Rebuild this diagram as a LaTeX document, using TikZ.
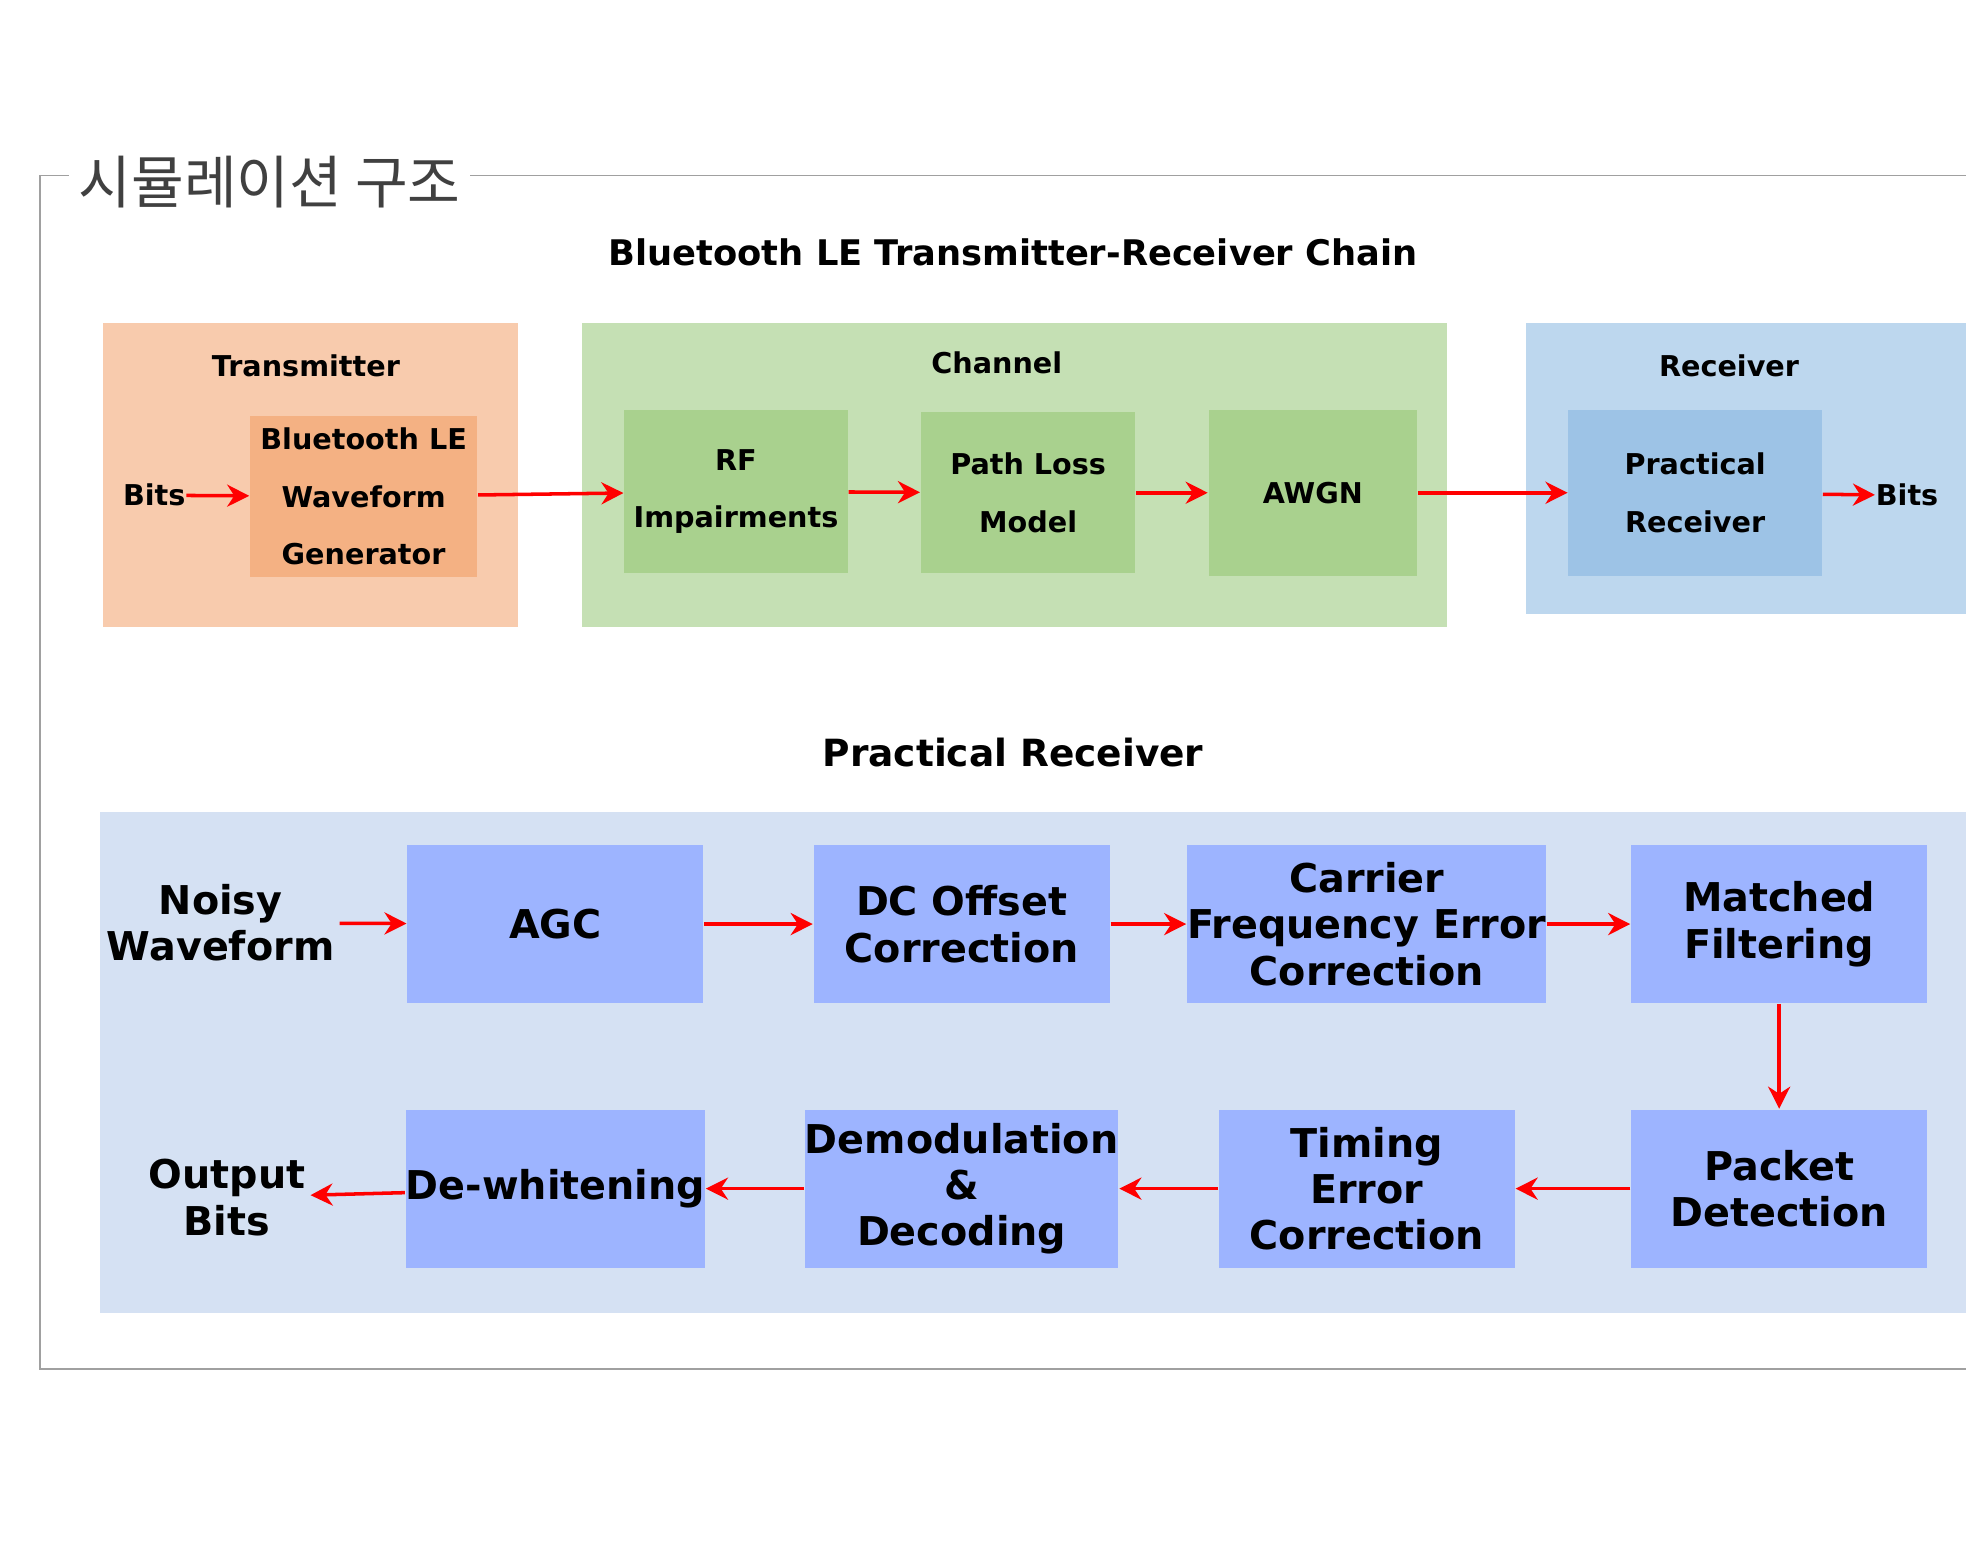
\documentclass[tikz,border=0pt]{standalone}
\usepackage{fontspec}
\setmainfont{DejaVu Sans}
\newfontfamily\cjk{Noto Sans CJK KR}
\usepackage{tikz}
\usetikzlibrary{arrows.meta,positioning}

\definecolor{txouter}{HTML}{F8CBAD}
\definecolor{txinner}{HTML}{F4B183}
\definecolor{chouter}{HTML}{C5E0B4}
\definecolor{chinner}{HTML}{A9D18E}
\definecolor{rxouter}{HTML}{BDD7EE}
\definecolor{rxinner}{HTML}{9DC3E6}
\definecolor{prouter}{HTML}{D5E1F3}
\definecolor{prinner}{HTML}{9DB4FF}
\definecolor{frameline}{HTML}{A0A0A0}

\begin{document}
\begin{tikzpicture}[x=0.01cm,y=-0.01cm,
    sig/.style={-{Stealth[length=5pt,width=5pt]},red,thick},
    small block/.style={align=center,font=\fontsize{6.5}{13}\selectfont\bfseries,inner sep=0pt},
    big block/.style={fill=prinner,minimum width=2.36cm,minimum height=1.26cm,align=center,
                      font=\fontsize{9}{10.5}\selectfont\bfseries,inner sep=0pt},
    plain/.style={align=center,inner sep=1pt}]

  \useasboundingbox (0,0) rectangle (1568,1248);

  % frame and heading
  \draw[frameline] (55,140) -- (32,140) -- (32,1092) -- (1568,1092);
  \draw[frameline] (375,140) -- (1568,140);
  \node[plain,font=\cjk\fontsize{13}{15}\selectfont,text=black!75] (head) at (215,145) {시뮬레이션 구조};

  \node[plain,font=\fontsize{8}{10}\selectfont\bfseries] (chain) at (808,201) {Bluetooth LE Transmitter-Receiver Chain};

  % upper chain: groups
  \fill[txouter] (82,258) rectangle (413,500);
  \fill[chouter] (464,258) rectangle (1154,500);
  \fill[rxouter] (1217,258) rectangle (1568,490);
  \node[small block] (txlab) at (244,292) {Transmitter};
  \node[small block] (chlab) at (795,289) {Channel};
  \node[small block] (rxlab) at (1379,292) {Receiver};

  \node[small block,fill=txinner,minimum width=1.81cm,minimum height=1.28cm] (gen) at (290,396) {Bluetooth LE\\Waveform\\Generator};
  \node[small block,fill=chinner,minimum width=1.78cm,minimum height=1.30cm] (rf) at (587,392) {RF\\Impairments};
  \node[small block,fill=chinner,minimum width=1.71cm,minimum height=1.28cm] (pl) at (820,393) {Path Loss\\Model};
  \node[small block,fill=chinner,minimum width=1.66cm,minimum height=1.32cm] (awgn) at (1047,393) {AWGN};
  \node[small block,fill=rxinner,minimum width=2.02cm,minimum height=1.32cm] (prx) at (1352,393) {Practical\\Receiver};
  \node[small block] (bitsin) at (123,395) {Bits};
  \node[small block] (bitsout) at (1521,395) {Bits};

  \draw[sig] (bitsin) -- (gen);
  \draw[sig] (gen) -- (rf);
  \draw[sig] (rf) -- (pl);
  \draw[sig] (pl) -- (awgn);
  \draw[sig] (awgn) -- (prx);
  \draw[sig] (prx) -- (bitsout);

  % practical receiver
  \node[plain,font=\fontsize{8.5}{10}\selectfont\bfseries] (prtitle) at (808,600) {Practical Receiver};
  \fill[prouter] (80,648) rectangle (1568,1047);

  \node[big block] (agc) at (443,737) {AGC};
  \node[big block] (dc) at (767,737) {DC Offset\\Correction};
  \node[big block] (cfo) at (1090,737) {Carrier\\Frequency Error\\Correction};
  \node[big block] (mf) at (1419,737) {Matched\\Filtering};
  \node[big block] (pd) at (1419,948) {Packet\\Detection};
  \node[big block] (te) at (1090,948) {Timing\\Error\\Correction};
  \node[big block] (dem) at (767,948) {Demodulation\\\&\\Decoding};
  \node[big block] (dw) at (443,948) {De-whitening};
  \node[plain,font=\fontsize{9}{10.5}\selectfont\bfseries] (noisy) at (176,736) {Noisy\\Waveform};
  \node[plain,font=\fontsize{9}{10.5}\selectfont\bfseries] (outb) at (181,955) {Output\\Bits};

  \draw[sig] (noisy) -- (agc);
  \draw[sig] (agc) -- (dc);
  \draw[sig] (dc) -- (cfo);
  \draw[sig] (cfo) -- (mf);
  \draw[sig] (mf) -- (pd);
  \draw[sig] (pd) -- (te);
  \draw[sig] (te) -- (dem);
  \draw[sig] (dem) -- (dw);
  \draw[sig] (dw) -- (outb);
\end{tikzpicture}
\end{document}
